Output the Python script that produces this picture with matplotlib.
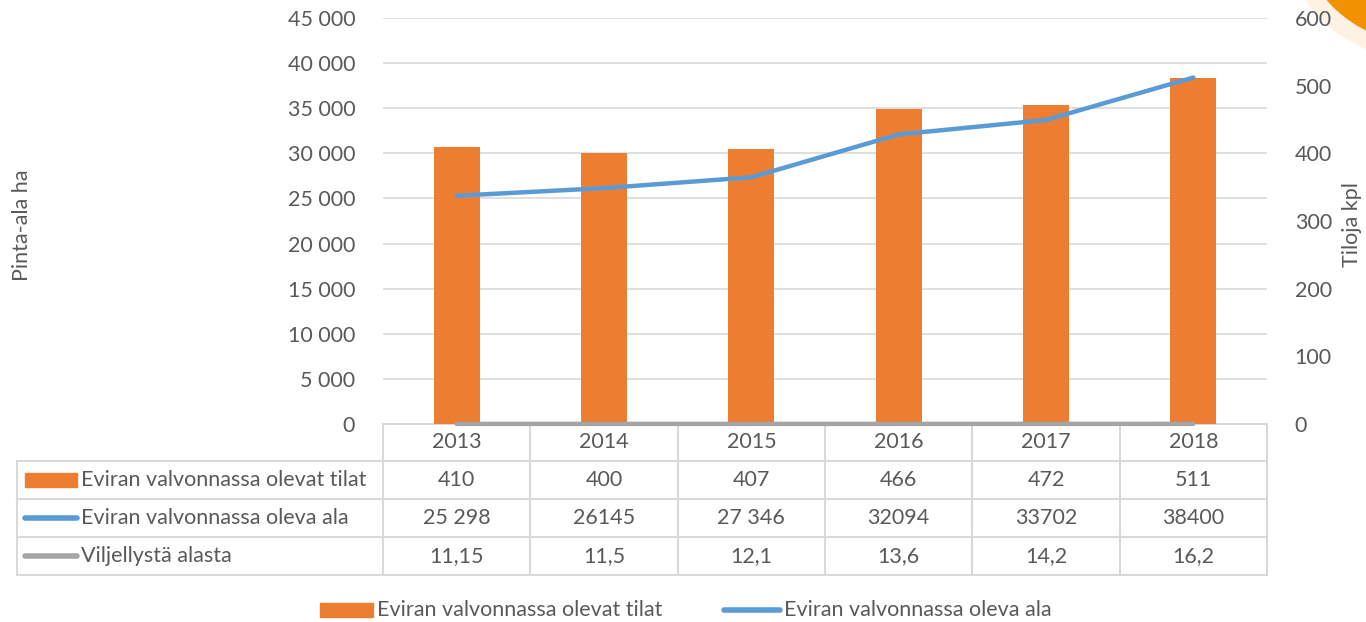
import matplotlib
matplotlib.use("Agg")
import matplotlib.pyplot as plt
from matplotlib.patches import Rectangle, Circle
from matplotlib.lines import Line2D

vuodet = ["2013", "2014", "2015", "2016", "2017", "2018"]
tilat = [410, 400, 407, 466, 472, 511]
ala = [25298, 26145, 27346, 32094, 33702, 38400]
viljelty = [11.15, 11.5, 12.1, 13.6, 14.2, 16.2]
ala_txt = ["25 298", "26145", "27 346", "32094", "33702", "38400"]
vilj_txt = ["11,15", "11,5", "12,1", "13,6", "14,2", "16,2"]
nimet = ["Eviran valvonnassa olevat tilat", "Eviran valvonnassa oleva ala", "Viljellystä alasta"]

vas_ticks = list(range(0, 45001, 5000))
oik_ticks = list(range(0, 601, 100))

ORANSSI = "#ED7D31"
SININEN = "#5B9BD5"
HARMAA = "#A5A5A5"
TEKSTI = "#595959"
VIIVA = "#D9D9D9"
FS = 15.5

plt.rcParams['font.family'] = ['Lato', 'DejaVu Sans']
plt.rcParams['font.size'] = FS

W, H = 1366, 622
fig = plt.figure(figsize=(W / 100, H / 100), dpi=100)

# pikselikoordinaatit koko kuvalle (taulukko, selite, koriste)
pk = fig.add_axes([0, 0, 1, 1])
pk.set_xlim(0, W)
pk.set_ylim(H, 0)
pk.axis("off")

x0, x1, y0, y1 = 383, 1267, 18, 424
ax = fig.add_axes([x0 / W, 1 - y1 / H, (x1 - x0) / W, (y1 - y0) / H])
axr = ax.twinx()
ax.set_zorder(2)
ax.patch.set_visible(False)

x = list(range(len(vuodet)))

# ruudukko vasemman asteikon mukaan pylväiden taakse
axr.hlines(vas_ticks[1:], -0.5, 5.5, colors=VIIVA, lw=1.2, transform=ax.transData, zorder=0)
axr.bar(x, tilat, width=0.31, color=ORANSSI, zorder=2)
axr.set_ylim(0, 600)
axr.set_yticks(oik_ticks)
axr.set_ylabel("Tiloja kpl", color=TEKSTI, fontsize=FS)
axr.yaxis.set_label_coords((1342 - x0) / (x1 - x0), 0.49)

ax.plot(x, ala, color=SININEN, lw=3.2, solid_capstyle="round")
ax.plot(x, viljelty, color=HARMAA, lw=3.2, solid_capstyle="round", clip_on=False)
ax.set_ylim(0, 45000)
ax.set_xlim(-0.5, 5.5)
ax.set_yticks(vas_ticks)
ax.set_yticklabels([f"{v:,}".replace(",", " ") for v in vas_ticks])
ax.set_xticks([])
ax.set_ylabel("Pinta-ala ha", color=TEKSTI, fontsize=FS)
ax.yaxis.set_label_coords((32 - x0) / (x1 - x0), 0.49)

for a in (ax, axr):
    for s in a.spines.values():
        s.set_visible(False)
    a.tick_params(axis="y", length=0, colors=TEKSTI, labelsize=FS, pad=20)

# taulukko
rivit = [424, 461, 499, 537, 575]
sarake_w = (x1 - x0) / len(vuodet)
tl = dict(color=VIIVA, lw=1.5)
pk.plot([x0, x1], [rivit[0], rivit[0]], **tl)
for r in rivit[1:]:
    pk.plot([17, x1], [r, r], **tl)
pk.plot([17, 17], [rivit[1], rivit[-1]], **tl)
for i in range(len(vuodet) + 1):
    xx = x0 + i * sarake_w
    pk.plot([xx, xx], [rivit[0], rivit[-1]], **tl)

rivi_arvot = [[str(v) for v in tilat], ala_txt, vilj_txt]
for i, v in enumerate(vuodet):
    cx = x0 + (i + 0.5) * sarake_w
    pk.text(cx, (rivit[0] + rivit[1]) / 2, v, ha="center", va="center", color=TEKSTI, fontsize=FS)
    for j in range(3):
        pk.text(cx, (rivit[j + 1] + rivit[j + 2]) / 2, rivi_arvot[j][i], ha="center", va="center",
                color=TEKSTI, fontsize=FS)

for j, nimi in enumerate(nimet):
    cy = (rivit[j + 1] + rivit[j + 2]) / 2
    if j == 0:
        pk.add_patch(Rectangle((25, cy - 7), 52, 14, color=ORANSSI))
    else:
        pk.add_line(Line2D([25, 77], [cy, cy], color=[SININEN, HARMAA][j - 1], lw=4,
                           solid_capstyle="round"))
    pk.text(81, cy, nimi, ha="left", va="center", color=TEKSTI, fontsize=FS)

# selite alhaalla
ly = 610
pk.add_patch(Rectangle((320, ly - 7), 53, 14, color=ORANSSI))
pk.text(377, ly, nimet[0], ha="left", va="center", color=TEKSTI, fontsize=FS)
pk.add_line(Line2D([724, 780], [ly, ly], color=SININEN, lw=4, solid_capstyle="round"))
pk.text(784, ly, nimet[1], ha="left", va="center", color=TEKSTI, fontsize=FS)

# oranssi koriste oikeassa yläkulmassa
pk.add_patch(Circle((1420, -80), 140, color="#FDE7C8", alpha=0.5, lw=0))
pk.add_patch(Circle((1420, -80), 123, color="#F39200", lw=0))

fig.savefig("out.png", dpi=100)
